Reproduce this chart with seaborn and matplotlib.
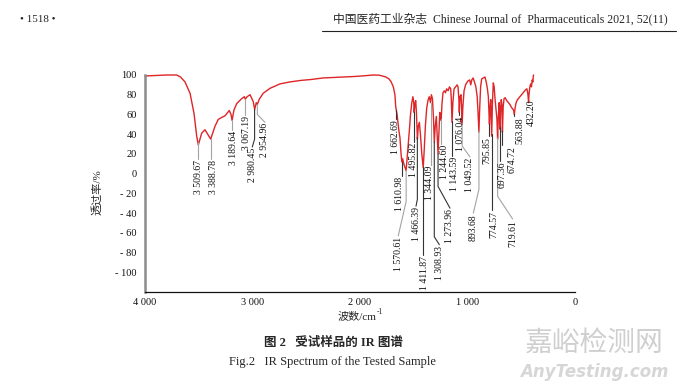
import numpy as np
import matplotlib
matplotlib.use("Agg")
from matplotlib import pyplot as plt
from matplotlib.lines import Line2D
import seaborn as sns

# spectrum: wavenumber (cm-1) and transmittance (%)
wavenumber = [
    4000, 3900, 3800, 3705, 3670, 3628, 3581, 3544, 3519, 3504, 3473, 3442,
    3411, 3389, 3349, 3318, 3287, 3256, 3216, 3200, 3190, 3172, 3147, 3101,
    3075, 3067, 3050, 3023, 2993, 2980, 2965, 2955, 2937, 2900, 2837, 2744,
    2650, 2550, 2450, 2344, 2250, 2150, 2050, 1950, 1880, 1820, 1760, 1730,
    1710, 1690, 1675, 1668, 1662, 1655, 1640, 1628, 1618, 1611, 1603, 1590,
    1578, 1571, 1562, 1550, 1540, 1530, 1518, 1508, 1500, 1496, 1490, 1482,
    1475, 1466, 1458, 1448, 1438, 1425, 1412, 1402, 1392, 1380, 1368, 1356,
    1344, 1336, 1326, 1316, 1309, 1300, 1290, 1282, 1274, 1266, 1258, 1250,
    1245, 1238, 1228, 1215, 1205, 1194, 1180, 1168, 1156, 1150, 1144, 1136,
    1125, 1110, 1098, 1088, 1080, 1076, 1070, 1060, 1055, 1050, 1043, 1032,
    1018, 1008, 995, 980, 970, 960, 948, 935, 922, 910, 902, 894, 886, 878,
    868, 852, 838, 826, 815, 806, 800, 796, 790, 784, 780, 775, 768, 760,
    752, 744, 735, 726, 720, 713, 705, 700, 697, 692, 686, 680, 675, 668,
    660, 650, 635, 620, 605, 590, 575, 568, 564, 558, 548, 535, 520, 505,
    490, 475, 460, 448, 440, 436, 432, 428, 420, 412, 405, 398, 392, 388, 385,
]
transmittance = [
    99, 99.5, 100, 100, 98, 93, 81.5, 61, 38, 29, 41, 44.5,
    39, 35, 48, 55, 57, 58.6, 64, 60, 54, 64.6, 71, 76,
    78, 75.5, 78, 80, 73, 65, 72, 70, 75.5, 81.5, 86.5, 91,
    93, 94.5, 95.5, 97, 97.5, 98, 98.5, 99.3, 100, 99.8, 98, 96,
    93, 88, 80, 68, 64, 60, 45, 36, 20, 12, 15, 9,
    5, 3, 15, 32, 45, 60, 72, 78, 72, 62, 70, 74,
    62, 35, 48, 52, 40, 20, 6, 25, 48, 66, 74, 78,
    72, 80, 76, 55, 32, 48, 58, 40, 20, 42, 62, 60,
    54, 70, 82, 84, 82, 86, 84, 88, 86, 74, 52, 72,
    86, 88, 90, 88, 75, 62, 78, 80, 68, 50, 68, 84,
    90, 92, 94, 95, 90, 95, 97, 93, 88, 78, 62, 42, 68, 88,
    96, 97, 98, 93, 86, 78, 62, 50, 68, 75, 60, 38, 72, 92,
    88, 76, 65, 55, 35, 58, 72, 62, 45, 65, 75, 70, 42, 68,
    76, 77, 74, 72, 70, 67, 65, 63, 60, 66, 72, 75, 77, 79,
    81, 83, 85, 86, 82, 78, 72, 80, 88, 91, 88, 95, 93, 99, 100,
]

# labelled bands
peak_text = [
    "3 509.67", "3 388.78", "3 189.64", "3 067.19", "2 980.45", "2 954.96",
    "1 662.69", "1 610.98", "1 570.61", "1 495.82", "1 466.39", "1 411.87",
    "1 344.09", "1 308.93", "1 273.96", "1 244.60", "1 143.59", "1 076.04",
    "1 049.52", "893.68", "795.85", "774.57", "719.61", "697.36", "674.72",
    "563.88", "432.20",
]
peak_wn = [
    3509.67, 3388.78, 3189.64, 3067.19, 2980.45, 2954.96,
    1662.69, 1610.98, 1570.61, 1495.82, 1466.39, 1411.87,
    1344.09, 1308.93, 1273.96, 1244.60, 1143.59, 1076.04,
    1049.52, 893.68, 795.85, 774.57, 719.61, 697.36, 674.72,
    563.88, 432.20,
]

# label layout: text x, text top, elbow of leader (None = straight), leader colour
G, K = "#a3a3a3", "#333333"
label_layout = [
    (3500, 14, None, G), (3365, 14, None, G), (3180, 43, None, G),
    (3055, 58, None, G), (3002, 26, 35, K), (2884, 51, 60, G),
    (1672, 54, None, K), (1630, -3, None, K), (1644, -64, -28, G),
    (1498, 31, None, K), (1479, -34, -26, K), (1400, -83, None, K),
    (1350, 8, None, G), (1262, -73, -64, K), (1163, -36, -13, K),
    (1215, 29, None, G), (1120, 17, None, K), (1066, 58, None, K),
    (977, 16, 28, G), (946, -41, -16, G), (821, 37, None, K),
    (755, -38, None, K), (580, -47, -23, G), (675, 12, None, K),
    (589, 28, None, K), (512, 57, None, K), (410, 75, "none", None),
]

y_ticks = [100, 80, 60, 40, 20, 0, -20, -40, -60, -80, -100]
y_tick_labels = ["100", "80", "60", "40", "20", "0", "- 20", "- 40", "- 60",
                 "- 80", "- 100"]
x_ticks = [4000, 3000, 2000, 1000, 0]
x_tick_labels = ["4 000", "3 000", "2 000", "1 000", "0"]

sns.set_theme(style="white")
plt.rcParams["font.family"] = ["Liberation Serif", "Noto Sans CJK SC", "DejaVu Sans"]
cjk = ["Liberation Serif", "Noto Sans CJK SC"]

fig = plt.figure(figsize=(6.8, 3.87), dpi=100)
ax = fig.add_axes([145 / 680, 1 - 292 / 387, 430 / 680, 217 / 387])

sns.lineplot(x=wavenumber, y=transmittance, ax=ax, color="#de2528",
             linewidth=1.0, sort=False, estimator=None)
for l in ax.lines:
    l.set_clip_on(False)

wn_sorted = np.array(wavenumber[::-1], dtype=float)
t_sorted = np.array(transmittance[::-1], dtype=float)
for text, wn, (lx, ltop, knee, col) in zip(peak_text, peak_wn, label_layout):
    t0 = np.interp(wn, wn_sorted, t_sorted)
    if knee is None:
        ax.plot([wn, wn], [t0, ltop + 1], color=col, lw=0.8, clip_on=False)
    elif knee != "none":
        ax.plot([wn, wn, lx], [t0, knee, ltop + 1], color=col, lw=0.8,
                clip_on=False)
    ax.text(lx, ltop, text, rotation=90, ha="center", va="top", fontsize=7,
            color="#111111")

ax.set_xlim(4000, 0)
ax.set_ylim(-120, 100)
ax.set_xticks(x_ticks)
ax.set_xticklabels(x_tick_labels)
ax.set_yticks(y_ticks)
ax.set_yticklabels(y_tick_labels)
ax.tick_params(axis="both", labelsize=7.5, colors="#111111", direction="in",
               length=3, width=0.6, pad=4)
ax.tick_params(axis="y", length=0, pad=6)
for side in ["top", "right"]:
    ax.spines[side].set_visible(False)
ax.spines["left"].set_color("#8c8c8c")
ax.spines["left"].set_linewidth(1.8)
ax.spines["bottom"].set_color("#111111")
ax.spines["bottom"].set_linewidth(0.9)
ax.set_xlabel("")
ax.set_ylabel("")

fig.text(97 / 680, 1 - 192 / 387, "透过率/%", rotation=90, ha="center",
         va="center", fontsize=8, family=cjk)
fig.text(376 / 680, 1 - 316 / 387, "波数/cm", ha="right", va="center",
         fontsize=8, family=cjk)
fig.text(376.5 / 680, 1 - 312 / 387, "-1", ha="left", va="center",
         fontsize=5.5)

# caption
fig.text(333 / 680, 1 - 343 / 387, "图 2   受试样品的 IR 图谱", ha="center",
         va="center", fontsize=9, fontweight="bold", family=cjk)
fig.text(332 / 680, 1 - 362 / 387, "Fig.2   IR Spectrum of the Tested Sample",
         ha="center", va="center", fontsize=9)

# page header
fig.text(20 / 680, 1 - 19 / 387, "• 1518 •", ha="left", va="center",
         fontsize=8)
fig.text(668 / 680, 1 - 19 / 387,
         "中国医药工业杂志  Chinese Journal of  Pharmaceuticals 2021, 52(11)",
         ha="right", va="center", fontsize=8.5, family=cjk)
fig.add_artist(Line2D([322 / 680, 676 / 680], [1 - 31 / 387] * 2,
                      color="#222222", lw=0.8))

# watermark
fig.text(594 / 680, 1 - 343 / 387, "嘉峪检测网", ha="center", va="center",
         fontsize=20, color="#cfcfcf", family=["Noto Sans CJK SC"])
fig.text(594 / 680, 1 - 372 / 387, "AnyTesting.com", ha="center",
         va="center", fontsize=12, color="#d6d6d6", fontweight="bold",
         fontstyle="italic", family=["DejaVu Sans"])

fig.savefig("out.png", dpi=100)
